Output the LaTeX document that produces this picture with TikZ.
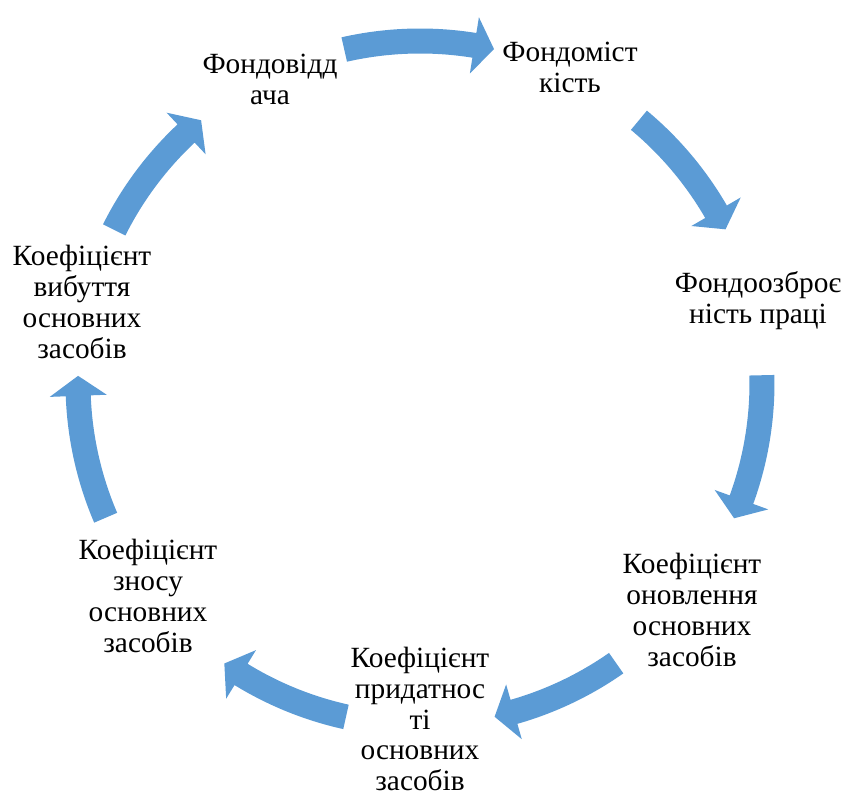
\documentclass[tikz,border=0pt]{standalone}
\usepackage{fontspec}
\setmainfont{Liberation Serif}
\definecolor{cycblue}{RGB}{91,155,213}

\tikzset{
  lbl/.style={align=center, inner sep=0pt, font=\fontsize{22}{23.2}\selectfont},
  cycfill/.style={fill=cycblue, draw=none}
}

\begin{document}
\begin{tikzpicture}[x=0.75pt, y=0.75pt]

  \newcommand\Rad{342}
  \newcommand\Hd{3.35}
  %% one curved arrow, from angle #1 to angle #2 (clockwise)
  \newcommand\cycarrow[2]{
    \fill[cycfill]
    ({#1}:{\Rad+12.5}) arc[start angle=#1, end angle=#2+\Hd, radius=\Rad+12.5]
    -- ({#2+\Hd}:{\Rad+28.5}) -- ({#2}:{\Rad}) -- ({#2+\Hd}:{\Rad-28.5})
    -- ({#2+\Hd}:{\Rad-12.5})
    arc[start angle=#2+\Hd, end angle=#1, radius=\Rad-12.5] -- cycle;
  }

  \useasboundingbox (0,0) rectangle (845,796); %% positioning

  \begin{scope}[shift={(420,413)}]
    \cycarrow{102.8}{77.5}
    \cycarrow{50.2}{26.7}
    \cycarrow{1.3}{-23.3}
    \cycarrow{-55}{-77.4}
    \cycarrow{-102.5}{-124.9}
    \cycarrow{203.2}{178.8}
    \cycarrow{153.4}{129.8}
  \end{scope}

  \node[lbl] (fvid)  at (270,717) {Фондовідд\\ача};
  \node[lbl] (fmist) at (570,729) {Фондоміст\\кість};
  \node[lbl] (fozbr) at (758,495) {Фондоозброє\\ність праці};
  \node[lbl] (konov) at (692,186) {Коефіцієнт\\оновлення\\основних\\засобів};
  \node[lbl] (kprid) at (420,77)  {Коефіцієнт\\придатнос\\ті\\основних\\засобів};
  \node[lbl] (kznos) at (148,200) {Коефіцієнт\\зносу\\основних\\засобів};
  \node[lbl] (kvyb)  at (82,494)  {Коефіцієнт\\вибуття\\основних\\засобів};

\end{tikzpicture}
\end{document}
